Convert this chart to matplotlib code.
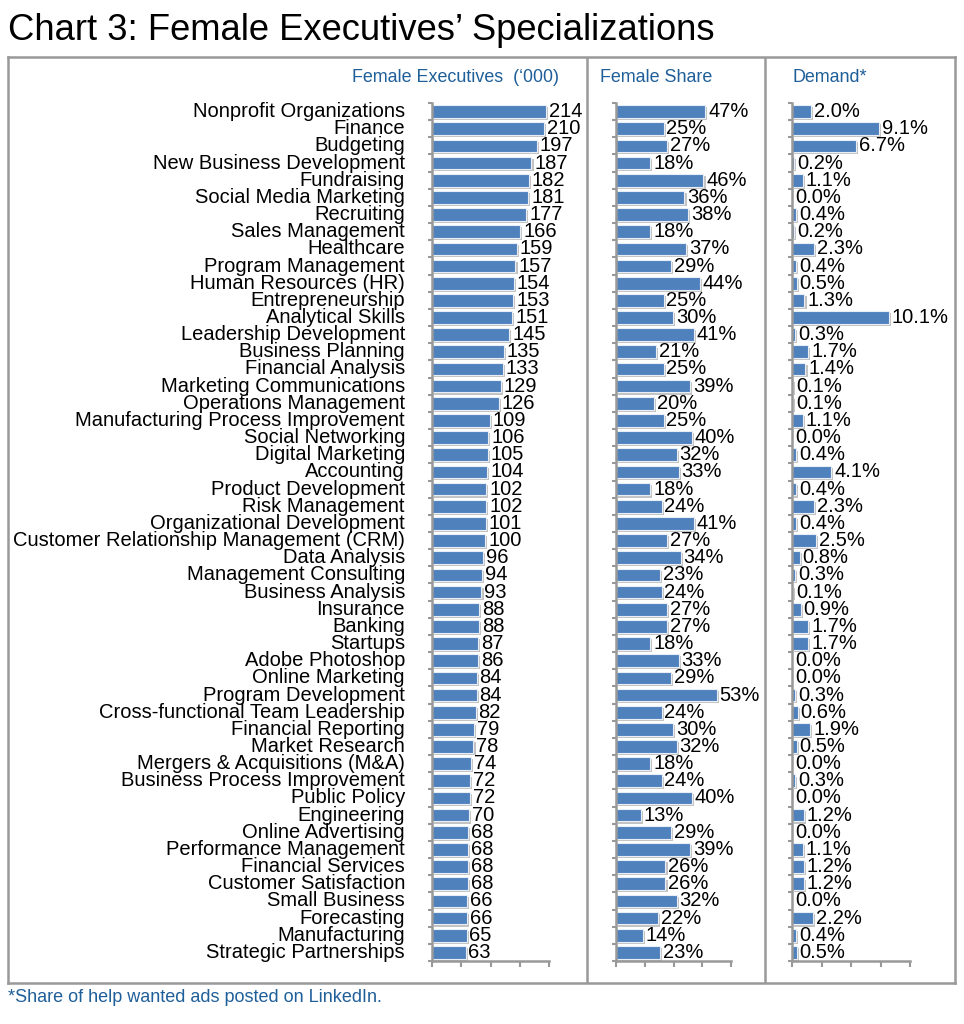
import numpy as np
import matplotlib.pyplot as plt
import matplotlib.patheffects as pe

plt.rcParams['font.family'] = ['Liberation Sans', 'DejaVu Sans']

categories = [
    "Nonprofit Organizations", "Finance", "Budgeting", "New Business Development",
    "Fundraising", "Social Media Marketing", "Recruiting", "Sales Management",
    "Healthcare", "Program Management", "Human Resources (HR)", "Entrepreneurship",
    "Analytical Skills", "Leadership Development", "Business Planning",
    "Financial Analysis", "Marketing Communications", "Operations Management",
    "Manufacturing Process Improvement", "Social Networking", "Digital Marketing",
    "Accounting", "Product Development", "Risk Management",
    "Organizational Development", "Customer Relationship Management (CRM)",
    "Data Analysis", "Management Consulting", "Business Analysis", "Insurance",
    "Banking", "Startups", "Adobe Photoshop", "Online Marketing",
    "Program Development", "Cross-functional Team Leadership", "Financial Reporting",
    "Market Research", "Mergers & Acquisitions (M&A)", "Business Process Improvement",
    "Public Policy", "Engineering", "Online Advertising", "Performance Management",
    "Financial Services", "Customer Satisfaction", "Small Business", "Forecasting",
    "Manufacturing", "Strategic Partnerships",
]

executives = [214, 210, 197, 187, 182, 181, 177, 166, 159, 157, 154, 153, 151, 145,
              135, 133, 129, 126, 109, 106, 105, 104, 102, 102, 101, 100, 96, 94, 93,
              88, 88, 87, 86, 84, 84, 82, 79, 78, 74, 72, 72, 70, 68, 68, 68, 68, 66,
              66, 65, 63]

female_share = [47, 25, 27, 18, 46, 36, 38, 18, 37, 29, 44, 25, 30, 41, 21, 25, 39, 20,
                25, 40, 32, 33, 18, 24, 41, 27, 34, 23, 24, 27, 27, 18, 33, 29, 53, 24,
                30, 32, 18, 24, 40, 13, 29, 39, 26, 26, 32, 22, 14, 23]

demand = [2.0, 9.1, 6.7, 0.2, 1.1, 0.0, 0.4, 0.2, 2.3, 0.4, 0.5, 1.3, 10.1, 0.3, 1.7,
          1.4, 0.1, 0.1, 1.1, 0.0, 0.4, 4.1, 0.4, 2.3, 0.4, 2.5, 0.8, 0.3, 0.1, 0.9,
          1.7, 1.7, 0.0, 0.0, 0.3, 0.6, 1.9, 0.5, 0.0, 0.3, 0.0, 1.2, 0.0, 1.1, 1.2,
          1.2, 0.0, 2.2, 0.4, 0.5]

headers = ["Female Executives  (\u2018000)", "Female Share", "Demand*"]

BLUE = "#4F81BD"
HEAD_BLUE = "#1F5F99"
GREY = "#999999"
W, H = 964, 1024
LABEL_FS = 14.5

fig = plt.figure(figsize=(W / 100, H / 100), dpi=100)

def px(x0, y0, x1, y1):
    # pixel box (top-left origin) -> figure rect
    return [x0 / W, 1 - y1 / H, (x1 - x0) / W, (y1 - y0) / H]

# -> outer frame and panel separators
frame = fig.add_axes(px(8, 57, 955, 983))
frame.set_xlim(8, 955)
frame.set_ylim(983, 57)
frame.set_xticks([])
frame.set_yticks([])
for s in frame.spines.values():
    s.set_color(GREY)
    s.set_linewidth(1.8)
frame.axvline(587, color=GREY, lw=1.8)
frame.axvline(765, color=GREY, lw=1.8)

fig.text(8 / W, 1 - 30 / H, "Chart 3: Female Executives\u2019 Specializations",
         fontsize=26.2, va="center", ha="left")
fig.text(8 / W, 1 - 997 / H, "*Share of help wanted ads posted on LinkedIn.",
         fontsize=13, color=HEAD_BLUE, va="center", ha="left")

n = len(categories)
y = np.arange(n)

# values, axis span (px), x max, label format, header anchor (px), header align
panels = [
    (executives, (432, 549), 220, "{:d}", 559, "right"),
    ([v / 100 for v in female_share], (616, 731), 0.605, "{:.0%}", 600, "left"),
    ([v / 100 for v in demand], (792, 910), 0.123, "{:.1%}", 792, "left"),
]

shadow = [pe.SimplePatchShadow(offset=(1.5, -1.5), shadow_rgbFace="#555555", alpha=0.35),
          pe.Normal()]

for i, (vals, (x0, x1), xmax, fmt, head_x, head_ha) in enumerate(panels):
    ax = fig.add_axes(px(x0, 103, x1, 961))
    ax.patch.set_alpha(0)
    bars = ax.barh(y, vals, height=0.74, color=BLUE, edgecolor="#E8EEF7", linewidth=0.8)
    for b, v in zip(bars, vals):
        if v == 0:
            b.set_visible(False)
        else:
            b.set_path_effects(shadow)
    for yi, v in zip(y, vals):
        ax.text(v + xmax * 0.025, yi, fmt.format(v), va="center", ha="left",
                fontsize=LABEL_FS, clip_on=False)
    ax.set_xlim(0, xmax)
    ax.set_ylim(n - 0.5, -0.5)
    ax.set_xticks(np.linspace(0, xmax, 5))
    ax.set_xticklabels([])
    ax.set_yticks(np.arange(-0.5, n, 1))
    ax.set_yticklabels([])
    ax.tick_params(axis="both", colors=GREY, length=4, width=1.5, direction="out")
    ax.tick_params(axis="y", length=3)
    for side in ["top", "right"]:
        ax.spines[side].set_visible(False)
    for side in ["left", "bottom"]:
        ax.spines[side].set_color(GREY)
        ax.spines[side].set_linewidth(1.8)
    fig.text(head_x / W, 1 - 78 / H, headers[i], fontsize=12.9, color=HEAD_BLUE,
             ha=head_ha, va="center")
    if i == 0:
        for yi, c in zip(y, categories):
            ax.text(-27 / (x1 - x0) * xmax, yi, c, ha="right", va="center",
                    fontsize=LABEL_FS, clip_on=False)

fig.savefig("out.png", dpi=100)
